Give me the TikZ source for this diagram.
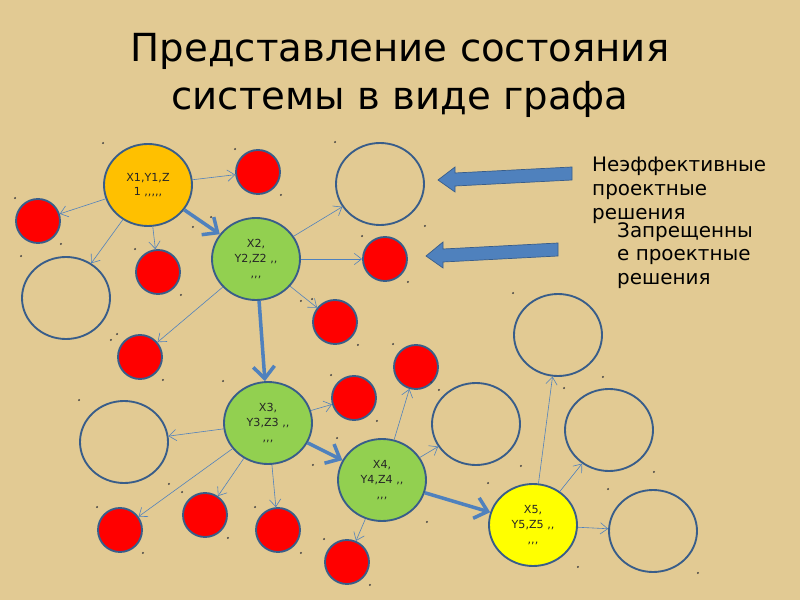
\documentclass[tikz,border=0pt]{standalone}
\usepackage{fontspec}
\setmainfont{DejaVu Sans}[Ligatures=TeXOff]
\usetikzlibrary{arrows.meta,shapes.geometric}
\definecolor{papyrus}{RGB}{226,202,147}
\definecolor{rim}{RGB}{56,93,138}
\definecolor{link}{RGB}{79,129,189}
\definecolor{amber}{RGB}{255,192,0}
\definecolor{leaf}{RGB}{146,208,80}
\definecolor{lemon}{RGB}{255,255,0}

\begin{document}
\begin{tikzpicture}[x=0.3mm, y=-0.3mm,
  state/.style={ellipse, draw=rim, line width=1.6pt, minimum width=26.4mm,
    minimum height=24.6mm, inner sep=0pt, align=center,
    font=\fontsize{9.5}{12.5}\selectfont, text=black!85},
  banned/.style={circle, draw=rim, line width=1.6pt, fill=red,
    minimum size=13.2mm, inner sep=0pt},
  hop/.style={draw=link, line width=0.5pt,
    -{Straight Barb[length=2.2mm, width=3.4mm]}},
  move/.style={draw=link, line width=3pt,
    -{Straight Barb[length=3.6mm, width=6.4mm]}},
  pointer/.style={draw=rim, line width=0.6pt, fill=link},
  note/.style={align=left, inner sep=0pt, anchor=north west,
    font=\fontsize{17}{20.4}\selectfont}]
\fill[papyrus] (0,0) rectangle (800,600);
\node[align=center, inner sep=0pt, anchor=north,
  font=\fontsize{33}{41}\selectfont] (title) at (400,33)
  {Представление состояния\\системы в виде графа};

% main chain
\node[state, fill=amber] (n1) at (148,185) {X1,Y1,Z\\1 ,,,,,};
\node[state, fill=leaf] (n2) at (256,259) {X2,\\Y2,Z2 ,,\\,,,};
\node[state, fill=leaf] (n3) at (268,423) {X3,\\Y3,Z3 ,,\\,,,};
\node[state, fill=leaf] (n4) at (382,480) {X4,\\Y4,Z4 ,,\\,,,};
\node[state, fill=lemon] (n5) at (533,525) {X5,\\Y5,Z5 ,,\\,,,};

% inefficient solutions
\node[state] (e1) at (66,298) {};
\node[state] (e2) at (380,184) {};
\node[state] (e3) at (124,442) {};
\node[state] (e4) at (476,424) {};
\node[state] (e5) at (558,335) {};
\node[state] (e6) at (609,430) {};
\node[state] (e7) at (653,531) {};

% forbidden solutions
\node[banned] (r1) at (258,172) {};
\node[banned] (r2) at (38,221) {};
\node[banned] (r3) at (158,272) {};
\node[banned] (r4) at (385,259) {};
\node[banned] (r5) at (335,322) {};
\node[banned] (r6) at (140,357) {};
\node[banned] (r7) at (354,398) {};
\node[banned] (r8) at (416,367) {};
\node[banned] (r9) at (120,530) {};
\node[banned] (r10) at (205,515) {};
\node[banned] (r11) at (278,530) {};
\node[banned] (r12) at (347,562) {};

% corner marks
\foreach \s in {n1,n2,n3,n4,n5,e1,e2,e3,e4,e5,e6,e7,
    r1,r2,r3,r4,r5,r6,r7,r8,r9,r10,r11,r12}
  \fill[black!75] (\s.north -| \s.west) circle (1.1)
    (\s.south -| \s.east) circle (1.1);

\foreach \a/\b in {n1/r1, n1/r2, n1/e1, n1/r3, n2/e2, n2/r4, n2/r5, n2/r6,
    n3/e3, n3/r7, n3/r9, n3/r10, n3/r11, n4/r8, n4/e4, n4/r12,
    n5/e5, n5/e6, n5/e7}
  \draw[hop] (\a) -- (\b);
\foreach \a/\b in {n1/n2, n2/n3, n3/n4, n4/n5}
  \draw[move] (\a) -- (\b);

% legend
\node[note] (ineff) at (592,157) {Неэффективные\\проектные\\решения};
\node[note] (forbid) at (617,222) {Запрещенны\\е проектные\\решения};
\draw[pointer] (438,180) -- (455,167) -- (455,173) -- (572,167)
  -- (572,180) -- (455,186) -- (455,192) -- cycle;
\draw[pointer] (426,256) -- (443,242) -- (443,249) -- (558,243)
  -- (558,256) -- (443,262) -- (443,268) -- cycle;
\end{tikzpicture}
\end{document}
